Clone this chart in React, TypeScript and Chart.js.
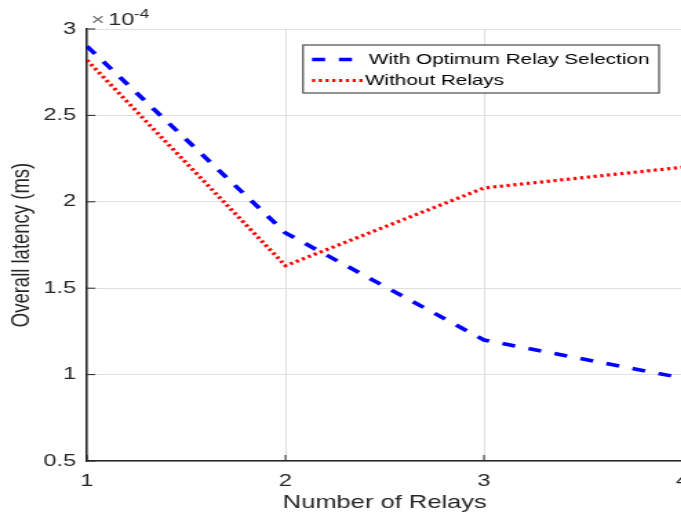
import { useEffect, useRef } from "react";
import { Chart, registerables } from "chart.js";

Chart.register(...registerables);

// ---- data (latency values in units of 1e-4 ms) ----
const relayCounts = [1, 2, 3, 4];
const withOptimumRelaySelection = [2.9, 1.82, 1.2, 0.98];
const withoutRelays = [2.82, 1.63, 2.08, 2.2];
const seriesLabels = ["With Optimum Relay Selection", "Without Relays"];
const xTickValues = [1, 2, 3, 4];
const yTickValues = [0.5, 1, 1.5, 2, 2.5, 3];
const exponentBase = "10";
const exponentPower = "-4";

// ---- styling ----
const STRETCH = 1.3788;
const CANVAS_W = 495;
const CANVAS_H = 515;
const FONT = "'Liberation Sans', Arial, Helvetica, sans-serif";
const AXIS_COLOR = "#262626";
const GRID_COLOR = "#dfdfdf";

const innerTicks = {
  id: "innerTicks",
  afterDatasetsDraw(chart: any) {
    const { ctx, chartArea, scales } = chart;
    ctx.save();
    ctx.strokeStyle = AXIS_COLOR;
    ctx.lineWidth = 1;
    scales.x.ticks.forEach((t: any) => {
      const px = scales.x.getPixelForValue(t.value);
      ctx.beginPath();
      ctx.moveTo(px, chartArea.bottom);
      ctx.lineTo(px, chartArea.bottom - 6);
      ctx.stroke();
    });
    scales.y.ticks.forEach((t: any) => {
      const py = scales.y.getPixelForValue(t.value);
      ctx.beginPath();
      ctx.moveTo(chartArea.left, py);
      ctx.lineTo(chartArea.left + 6, py);
      ctx.stroke();
    });
    ctx.restore();
  },
};

const exponentLabel = {
  id: "exponentLabel",
  afterDraw(chart: any) {
    const { ctx, chartArea } = chart;
    ctx.save();
    ctx.textBaseline = "alphabetic";
    ctx.textAlign = "left";
    ctx.font = `17px ${FONT}`;
    const base = chartArea.top - 4;
    ctx.fillStyle = "#707070";
    ctx.fillText("\u00d7", chartArea.left + 3, base);
    ctx.fillStyle = AXIS_COLOR;
    const bx = chartArea.left + 15.5;
    ctx.fillText(exponentBase, bx, base);
    const w = ctx.measureText(exponentBase).width;
    ctx.font = `12.5px ${FONT}`;
    ctx.fillText(exponentPower, bx + w - 0.5, base - 7);
    ctx.restore();
  },
};

const boxLegend = {
  id: "boxLegend",
  afterDraw(chart: any) {
    const { ctx } = chart;
    const x0 = 219.8;
    const y0 = 45;
    const x1 = 478;
    const y1 = 93;
    ctx.save();
    ctx.fillStyle = "#ffffff";
    ctx.fillRect(x0, y0, x1 - x0, y1 - y0);
    ctx.strokeStyle = AXIS_COLOR;
    ctx.lineWidth = 1;
    ctx.strokeRect(x0, y0, x1 - x0, y1 - y0);
    const rows = [
      { y: 59.5, lineEnd: 256, textX: 267.6 },
      { y: 80.5, lineEnd: 263.3, textX: 264.7 },
    ];
    chart.data.datasets.forEach((ds: any, i: number) => {
      const r = rows[i];
      ctx.strokeStyle = ds.borderColor;
      ctx.lineWidth = ds.borderWidth;
      ctx.setLineDash(ds.borderDash || []);
      ctx.beginPath();
      ctx.moveTo(226.3, r.y);
      ctx.lineTo(r.lineEnd, r.y);
      ctx.stroke();
      ctx.setLineDash([]);
      ctx.fillStyle = "#000000";
      ctx.font = `15px ${FONT}`;
      ctx.textBaseline = "middle";
      ctx.textAlign = "left";
      ctx.fillText(ds.label, r.textX, r.y);
    });
    ctx.restore();
  },
};

const tickText = (v: any) => String(v);

export default function App() {
  const ref = useRef<HTMLCanvasElement>(null);
  useEffect(() => {
    const chart = new Chart(ref.current as HTMLCanvasElement, {
      type: "line",
      data: {
        datasets: [
          {
            label: seriesLabels[0],
            data: relayCounts.map((x, i) => ({ x, y: withOptimumRelaySelection[i] })),
            borderColor: "#0000ff",
            borderWidth: 3.6,
            borderDash: [9.5, 10],
            pointRadius: 0,
            tension: 0,
            fill: false,
          },
          {
            label: seriesLabels[1],
            data: relayCounts.map((x, i) => ({ x, y: withoutRelays[i] })),
            borderColor: "#ff0000",
            borderWidth: 3.2,
            borderDash: [2.3, 2.6],
            pointRadius: 0,
            tension: 0,
            fill: false,
          },
        ],
      },
      options: {
        animation: false,
        responsive: false,
        devicePixelRatio: 1,
        layout: { padding: { left: 0, right: 0, top: 29, bottom: 0 } },
        plugins: { legend: { display: false }, tooltip: { enabled: false } },
        scales: {
          x: {
            type: "linear",
            min: 1,
            max: 4,
            afterBuildTicks: (s: any) => {
              s.ticks = xTickValues.map((v) => ({ value: v }));
            },
            ticks: {
              font: { size: 17, family: FONT },
              color: AXIS_COLOR,
              padding: 10,
              maxRotation: 0,
              autoSkip: false,
              callback: tickText,
            },
            grid: { color: GRID_COLOR, drawTicks: false, lineWidth: 1 },
            border: { display: true, color: AXIS_COLOR, width: 1.5 },
            title: {
              display: true,
              text: "Number of Relays",
              font: { size: 18.5, family: FONT },
              color: AXIS_COLOR,
              padding: { top: 0, bottom: 1 },
            },
            afterFit: (s: any) => {
              s.height = 54;
              s.paddingLeft = 0;
              s.paddingRight = 0;
            },
          },
          y: {
            type: "linear",
            min: 0.5,
            max: 3,
            afterBuildTicks: (s: any) => {
              s.ticks = yTickValues.map((v) => ({ value: v }));
            },
            ticks: { font: { size: 17, family: FONT }, color: AXIS_COLOR, padding: 8, callback: tickText },
            grid: { color: GRID_COLOR, drawTicks: false, lineWidth: 1 },
            border: { display: true, color: AXIS_COLOR, width: 1.5 },
            title: {
              display: true,
              text: "Overall latency (ms)",
              font: { size: 18.5, family: FONT },
              color: AXIS_COLOR,
              padding: { top: 5, bottom: 0 },
            },
            afterFit: (s: any) => {
              s.width = 63.1;
            },
          },
        },
      },
      plugins: [innerTicks, exponentLabel, boxLegend],
    } as any);
    return () => chart.destroy();
  }, []);
  return (
    <div
      style={{
        position: "fixed",
        left: 0,
        top: 0,
        width: 681,
        height: 515,
        overflow: "hidden",
        background: "#ffffff",
      }}
    >
      <canvas
        ref={ref}
        width={CANVAS_W}
        height={CANVAS_H}
        style={{
          display: "block",
          width: CANVAS_W,
          height: CANVAS_H,
          transform: `scaleX(${STRETCH})`,
          transformOrigin: "0 0",
        }}
      />
    </div>
  );
}
